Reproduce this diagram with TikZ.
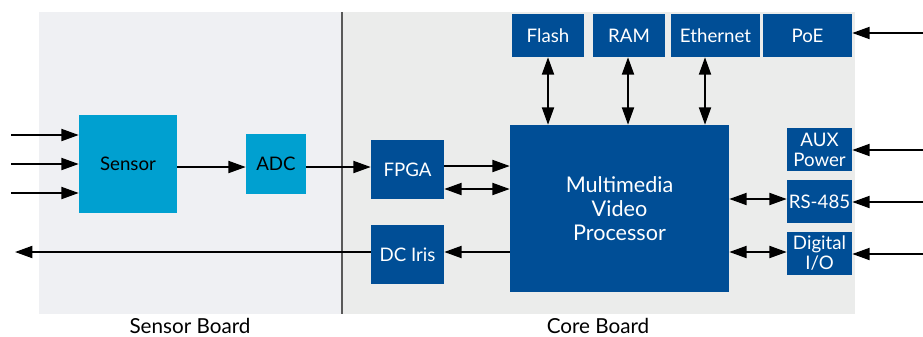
\documentclass[tikz,border=0pt]{standalone}
\usepackage{fontspec}
\setmainfont{Lato}
\usetikzlibrary{arrows.meta}
\definecolor{sensorblue}{HTML}{00A0D0}
\definecolor{coreblue}{HTML}{004E96}
\definecolor{sensorbg}{HTML}{EFF0F3}
\definecolor{corebg}{HTML}{EBECEB}
\begin{document}
\begin{tikzpicture}[x=0.75pt,y=-0.75pt,
  sens/.style={fill=sensorblue,text=black,inner sep=0pt,align=center},
  core/.style={fill=coreblue,text=white,inner sep=0pt,align=center},
  arr/.style={line width=1.4pt,-{Triangle[length=13pt,width=9pt]}},
  biarr/.style={line width=1.4pt,{Triangle[length=13pt,width=9pt]}-{Triangle[length=13pt,width=9pt]}}]
\fontsize{14pt}{15pt}\selectfont
\useasboundingbox(0,0)rectangle(923,336);
% boards
\fill[sensorbg](39,12)rectangle(342,314);
\fill[corebg](342,12)rectangle(855,314);
\draw[line width=1pt,black!65](342,12)--(342,314);
\node[anchor=base,font=\fontsize{15.5pt}{18pt}\selectfont](sboard)at(190,333){Sensor Board};
\node[anchor=base,font=\fontsize{15.5pt}{18pt}\selectfont](cboard)at(598,333){Core Board};
% sensor board
\node[sens,minimum width=73.5pt,minimum height=73.5pt](sensor)at(128,164){Sensor};
\node[sens,minimum width=45pt,minimum height=45pt](adc)at(276,164){ADC};
% core board
\node[core,minimum width=54.75pt,minimum height=44.25pt](fpga)at(407.5,169.5){FPGA};
\node[core,minimum width=54.75pt,minimum height=44.25pt](iris)at(407.5,254.5){DC Iris};
\node[core,minimum width=54pt,minimum height=32.25pt](flash)at(548,35.5){Flash};
\node[core,minimum width=54pt,minimum height=32.25pt](ram)at(629,35.5){RAM};
\node[core,minimum width=66.75pt,minimum height=32.25pt](eth)at(715.5,35.5){Ethernet};
\node[core,minimum width=66.75pt,minimum height=32.25pt](poe)at(807.5,35.5){PoE};
\node[core,minimum width=164.25pt,minimum height=125.25pt,font=\fontsize{16.2pt}{18pt}\selectfont](mvp)at(619.5,208.5){Multimedia\\Video\\Processor};
\node[core,minimum width=48.75pt,minimum height=32.25pt](aux)at(819.5,149.5){AUX\\Power};
\node[core,minimum width=48.75pt,minimum height=32.25pt](rs)at(819.5,201.5){RS-485};
\node[core,minimum width=48.75pt,minimum height=32.25pt](dio)at(819.5,253.5){Digital\\I/O};
% free ends
\coordinate(in1)at(11,135);
\coordinate(in2)at(11,164);
\coordinate(in3)at(11,193);
\coordinate(out)at(15,252);
\coordinate(poein)at(923,33);
\coordinate(auxin)at(923,150);
\coordinate(rsin)at(923,202);
\coordinate(dioin)at(923,254);
% connectors
\foreach \c in {in1,in2,in3}
  \draw[arr](\c)--(sensor.west|-\c);
\draw[arr](sensor.east|-0,167)--(adc.west|-0,167);
\draw[arr](adc.east|-0,167)--(fpga.west|-0,167);
\draw[arr](fpga.east|-0,166)--(mvp.west|-0,166);
\draw[biarr](fpga.east|-0,189)--(mvp.west|-0,189);
\draw[arr](mvp.west|-0,252)--(iris.east|-0,252);
\draw[arr](iris.west|-0,252)--(out);
\draw[biarr](flash.south)--(flash.south|-mvp.north);
\draw[biarr](628,0|-ram.south)--(628,0|-mvp.north);
\draw[biarr](705,0|-eth.south)--(705,0|-mvp.north);
\draw[biarr](mvp.east|-0,199)--(rs.west|-0,199);
\draw[biarr](mvp.east|-0,252)--(dio.west|-0,252);
\foreach \c/\n in {poein/poe,auxin/aux,rsin/rs,dioin/dio}
  \draw[arr](\c)--(\n.east|-\c);
\end{tikzpicture}
\end{document}
